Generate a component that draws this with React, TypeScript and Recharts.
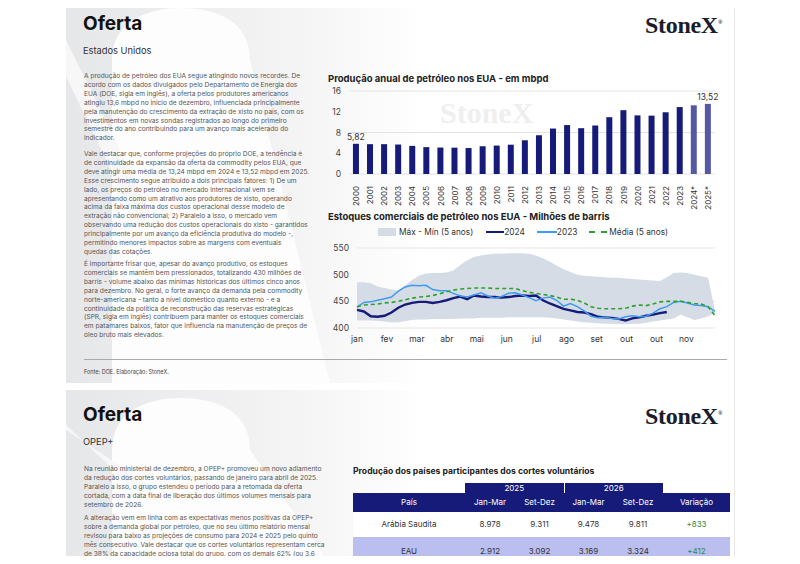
import React from "react";
import {
  BarChart,
  Bar,
  XAxis,
  YAxis,
  CartesianGrid,
  Cell,
  LabelList,
  ComposedChart,
  Area,
  Line,
} from "recharts";

const FONT = "Inter, 'Noto Sans', sans-serif";
const NAVY = "#161a78";

// --- bar chart: annual production (mbpd)
const YEARS = [
  "2000", "2001", "2002", "2003", "2004", "2005", "2006", "2007", "2008", "2009",
  "2010", "2011", "2012", "2013", "2014", "2015", "2016", "2017", "2018", "2019",
  "2020", "2021", "2022", "2023", "2024*", "2025*",
];
const PRODUCTION = [
  5.82, 5.75, 5.75, 5.68, 5.42, 5.18, 5.1, 5.08, 5.0, 5.35,
  5.48, 5.65, 6.5, 7.47, 8.76, 9.43, 8.83, 9.35, 10.95, 12.3,
  11.3, 11.25, 11.9, 12.9, 13.24, 13.52,
];
const PROD_TICKS = [0, 4, 8, 12, 16];

// --- line chart: commercial stocks (million barrels), weekly
const STOCK_2024 = [
  434, 431, 422, 421, 423, 429, 438, 444, 447, 449, 449, 447, 449, 452, 456, 459,
  454, 461, 459, 458, 458, 457, 458, 460, 461, 460, 461, 452, 446, 441, 436, 433,
  430, 429, 426, 421, 420, 419, 417, 414, 418, 420, 423, 425, 428, 430,
];
const STOCK_2023 = [
  439, 448, 449, 452, 455, 458, 469, 477, 480, 479, 480, 472, 470, 470, 465, 460,
  458, 462, 466, 460, 456, 459, 465, 466, 462, 457, 451, 456, 458, 452, 441, 446,
  440, 432, 422, 419, 420, 418, 417, 421, 423, 421, 422, 428, 436, 440, 448, 450,
  447, 443, 442, 440, 431,
];
const STOCK_AVG = [
  440, 443, 444, 445, 447, 448, 450, 453, 456, 458, 459, 461, 464, 468, 471, 473,
  474, 475, 475, 475, 474, 474, 474, 474, 470, 467, 465, 463, 461, 458, 454, 454,
  452, 447, 440, 437, 436, 436, 436, 437, 441, 443, 442, 445, 449, 450, 450, 450,
  448, 446, 445, 440, 423,
];
const STOCK_MAX = [
  486, 486, 484, 478, 475, 472, 470, 480, 490, 498, 502, 503, 503, 504, 508, 518,
  527, 533, 536, 538, 539, 539, 540, 540, 540, 539, 536, 531, 524, 517, 510, 505,
  500, 498, 497, 496, 495, 494, 494, 493, 492, 491, 490, 489, 488, 495, 503, 504,
  503, 500, 497, 494, 433,
];
const STOCK_MIN = [
  414, 414, 414, 413, 412, 411, 411, 413, 415, 416, 416, 417, 417, 417, 417, 418,
  418, 418, 419, 419, 419, 419, 420, 420, 420, 420, 420, 420, 419, 418, 416, 414,
  412, 411, 410, 409, 408, 408, 407, 407, 408, 408, 410, 412, 414, 416, 418, 425,
  420, 415, 418, 422, 428,
];
const MONTHS = ["jan", "fev", "mar", "abr", "mai", "jun", "jul", "ago", "set", "out", "out", "nov"];
const MONTH_WEEKS = [0, 4.35, 8.7, 13.05, 17.4, 21.75, 26.1, 30.45, 34.8, 39.15, 43.5, 47.85];
const STOCK_TICKS = [400, 450, 500, 550];

// --- table: voluntary cuts
const TABLE_COLS = ["País", "Jan-Mar", "Set-Dez", "Jan-Mar", "Set-Dez", "Variação"];
const COUNTRIES = ["Arábia Saudita", "EAU"];
const CUT_2025_Q1 = ["8.978", "2.912"];
const CUT_2025_Q4 = ["9.311", "3.092"];
const CUT_2026_Q1 = ["9.478", "3.169"];
const CUT_2026_Q4 = ["9.811", "3.324"];
const CUT_CHANGE = ["+833", "+412"];

const TEXT_US = [
  [
    "A produção de petróleo dos EUA segue atingindo novos recordes. De",
    "acordo com os dados divulgados pelo Departamento de Energia dos",
    "EUA (DOE, sigla em inglês), a oferta pelos produtores americanos",
    "atingiu 13,6 mbpd no início de dezembro, influenciada principalmente",
    "pela manutenção do crescimento da extração de xisto no país, com os",
    "investimentos em novas sondas registrados ao longo do primeiro",
    "semestre do ano contribuindo para um avanço mais acelerado do",
    "indicador.",
  ],
  [
    "Vale destacar que, conforme projeções do próprio DOE, a tendência é",
    "de continuidade da expansão da oferta da commodity pelos EUA, que",
    "deve atingir uma média de 13,24 mbpd em 2024 e 13,52 mbpd em 2025.",
    "Esse crescimento segue atribuído a dois principais fatores: 1) De um",
    "lado, os preços do petróleo no mercado internacional vem se",
    "apresentando como um atrativo aos produtores de xisto, operando",
    "acima da faixa máxima dos custos operacional desse modelo de",
    "extração não convencional; 2) Paralelo a isso, o mercado vem",
    "observando uma redução dos custos operacionais do xisto - garantidos",
    "principalmente por um avanço da eficiência produtiva do modelo -,",
    "permitindo menores impactos sobre as margens com eventuais",
    "quedas das cotações.",
  ],
  [
    "É importante frisar que, apesar do avanço produtivo, os estoques",
    "comerciais se mantêm bem pressionados, totalizando 430 milhões de",
    "barris - volume abaixo das mínimas históricas dos últimos cinco anos",
    "para dezembro. No geral, o forte avanço da demanda pela commodity",
    "norte-americana - tanto a nível doméstico quanto externo - e a",
    "continuidade da política de reconstrução das reservas estratégicas",
    "(SPR, sigla em inglês) contribuem para manter os estoques comerciais",
    "em patamares baixos, fator que influencia na manutenção de preços de",
    "óleo bruto mais elevados.",
  ],
];
const TEXT_OPEP = [
  [
    "Na reunião ministerial de dezembro, a OPEP+ promoveu um novo adiamento",
    "da redução dos cortes voluntários, passando de janeiro para abril de 2025.",
    "Paralelo a isso, o grupo estendeu o período para a retomada da oferta",
    "cortada, com a data final de liberação dos últimos volumes mensais para",
    "setembro de 2026.",
  ],
  [
    "A alteração vem em linha com as expectativas menos positivas da OPEP+",
    "sobre a demanda global por petróleo, que no seu último relatório mensal",
    "revisou para baixo as projeções de consumo para 2024 e 2025 pelo quinto",
    "mês consecutivo. Vale destacar que os cortes voluntários representam cerca",
    "de 38% da capacidade ociosa total do grupo, com os demais 62% (ou 3,6",
    "mbpd) sendo representando pelas cotas produtivas implementadas no",
  ],
];

const prodData = YEARS.map((y, i) => ({
  year: y,
  value: PRODUCTION[i],
  lbl: i === 0 || i === YEARS.length - 1 ? PRODUCTION[i] : null,
}));

const stockData = STOCK_MAX.map((_, i) => ({
  w: i,
  band: [STOCK_MIN[i], STOCK_MAX[i]],
  s2024: i < STOCK_2024.length ? STOCK_2024[i] : null,
  s2023: STOCK_2023[i],
  avg: STOCK_AVG[i],
}));

const abs = (left: number, top: number, extra: React.CSSProperties = {}): React.CSSProperties => ({
  position: "absolute",
  left,
  top,
  ...extra,
});

const YearTick = (props: any) => {
  const { x, y, payload } = props;
  return (
    <text
      transform={`translate(${x},${y + 4}) rotate(-90)`}
      textAnchor="end"
      dominantBaseline="central"
      fontSize={8}
      fill="#333"
      fontFamily={FONT}
    >
      {payload.value}
    </text>
  );
};

const Paragraphs = ({ paras, tops, left }: { paras: string[][]; tops: number[]; left: number }) => (
  <>
    {paras.map((lines, p) => (
      <div
        key={p}
        style={abs(left, tops[p], {
          fontSize: 6.6,
          lineHeight: "8.9px",
          color: "#555",
          whiteSpace: "nowrap",
          fontFamily: FONT,
        })}
      >
        {lines.map((l, i) => (
          <div key={i}>{l}</div>
        ))}
      </div>
    ))}
  </>
);

const Watermark = ({ top, h }: { top: number; h: number }) => (
  <svg style={abs(0, top)} width={800} height={h}>
    <defs>
      <linearGradient id={`wm${top}`} x1="0" x2="1" y1="0" y2="0">
        <stop offset="0" stopColor="#e6e7e9" />
        <stop offset="0.6" stopColor="#f3f3f4" />
        <stop offset="1" stopColor="#ffffff" />
      </linearGradient>
    </defs>
    <rect x={66} y={0} width={360} height={h} fill={`url(#wm${top})`} />
    <path
      d={`M112 ${h} L112 60 C112 20 150 8 180 8 C215 8 250 20 250 60 L330 ${h} Z`}
      fill="#fdfdfd"
    />
    <path d={`M66 40 L150 ${h * 0.55} L140 ${h * 0.6} L66 ${h * 0.2} Z`} fill="#f7f7f8" />
  </svg>
);

const StoneXLogo = ({ left, top }: { left: number; top: number }) => (
  <div
    style={abs(left, top, {
      fontFamily: "'Liberation Serif', 'DejaVu Serif', serif",
      fontWeight: 700,
      fontSize: 24,
      color: "#1a1d2b",
      letterSpacing: -0.3,
    })}
  >
    StoneX<span style={{ fontSize: 6, verticalAlign: "super" }}>®</span>
  </div>
);

export default function App() {
  const colW = [112, 50, 49, 49, 50, 67];
  return (
    <div style={{ position: "relative", width: 800, height: 564, margin: -8, background: "#fff", overflow: "hidden", fontFamily: FONT }}>
      <Watermark top={0} h={383} />
      <Watermark top={390} h={174} />
      <div style={abs(734, 0, { width: 1, height: 564, background: "#e8e8e8" })} />

      {/* top page */}
      <div style={abs(83, 12, { fontSize: 19, fontWeight: 700, color: "#111" })}>Oferta</div>
      <div style={abs(83, 45, { fontSize: 9.3, color: "#333" })}>Estados Unidos</div>
      <StoneXLogo left={645} top={12} />
      <Paragraphs paras={TEXT_US} tops={[72, 150, 260]} left={84} />
      <div style={abs(84, 359, { width: 643, height: 1, background: "#aaa" })} />
      <div style={abs(84, 369, { fontSize: 5.5, color: "#444" })}>Fonte: DOE. Elaboração: StoneX.</div>

      {/* bar chart */}
      <div style={abs(328, 73, { fontSize: 9.5, fontWeight: 700, color: "#222", whiteSpace: "nowrap" })}>
        Produção anual de petróleo nos EUA - em mbpd
      </div>
      <div style={abs(440, 96, { fontFamily: "'Liberation Serif', serif", fontSize: 30, fontWeight: 700, color: "#efefef" })}>
        StoneX
      </div>
      <div style={abs(300, 80)}>
        <BarChart
          width={430}
          height={132}
          data={prodData}
          margin={{ top: 11, right: 15, left: 19, bottom: 4 }}
          barCategoryGap="28%"
        >
          <CartesianGrid vertical={false} stroke="#e3e3e3" />
          <XAxis dataKey="year" interval={0} height={34} axisLine={false} tickLine={false} tick={<YearTick />} />
          <YAxis
            width={30}
            domain={[0, 16]}
            ticks={PROD_TICKS}
            axisLine={false}
            tickLine={false}
            tick={{ fontSize: 8.5, fill: "#444", fontFamily: FONT }}
          />
          <Bar dataKey="value" isAnimationActive={false}>
            {prodData.map((d) => (
              <Cell key={d.year} fill={d.year.includes("*") ? "#5558a3" : NAVY} />
            ))}
            <LabelList
              dataKey="lbl"
              position="top"
              offset={4}
              formatter={(v: any) => (v == null ? "" : Number(v).toFixed(2).replace(".", ","))}
              style={{ fontSize: 8.5, fill: "#333", fontFamily: FONT }}
            />
          </Bar>
        </BarChart>
      </div>

      {/* line chart */}
      <div style={abs(328, 211, { fontSize: 9.5, fontWeight: 700, color: "#222", whiteSpace: "nowrap" })}>
        Estoques comerciais de petróleo nos EUA - Milhões de barris
      </div>
      <div style={abs(378, 227, { display: "flex", alignItems: "center", fontSize: 8.3, color: "#333", whiteSpace: "nowrap" })}>
        <span style={{ width: 18, height: 8, background: "#d6dce6", marginRight: 3 }} />
        <span style={{ marginRight: 13 }}>Máx - Mín (5 anos)</span>
        <span style={{ width: 18, height: 2.5, background: NAVY }} />
        <span style={{ marginRight: 12 }}>2024</span>
        <span style={{ width: 20, height: 1.6, background: "#3d9bf0" }} />
        <span style={{ marginRight: 12 }}>2023</span>
        <span style={{ width: 18, borderTop: "2px dashed #2ca02c", marginRight: 2 }} />
        <span>Média (5 anos)</span>
      </div>
      <div style={abs(300, 240)}>
        <ComposedChart width={430} height={108} data={stockData} margin={{ top: 8, right: 15, left: 20, bottom: 2 }}>
          <CartesianGrid vertical={false} stroke="#e6e6e6" />
          <XAxis
            type="number"
            dataKey="w"
            domain={[0, 52]}
            ticks={MONTH_WEEKS}
            tickFormatter={(_v: any, i: number) => MONTHS[i]}
            interval={0}
            height={18}
            axisLine={false}
            tickLine={false}
            tick={{ fontSize: 8.5, fill: "#333", fontFamily: FONT }}
          />
          <YAxis
            width={37}
            domain={[400, 550]}
            ticks={STOCK_TICKS}
            axisLine={false}
            tickLine={false}
            tick={{ fontSize: 8.5, fill: "#444", fontFamily: FONT }}
          />
          <Area dataKey="band" fill="#d6dce6" fillOpacity={1} stroke="none" isAnimationActive={false} />
          <Line dataKey="s2024" stroke={NAVY} strokeWidth={2.4} dot={false} isAnimationActive={false} />
          <Line dataKey="s2023" stroke="#3d9bf0" strokeWidth={1.5} dot={false} isAnimationActive={false} />
          <Line dataKey="avg" stroke="#2ca02c" strokeWidth={1.6} strokeDasharray="4 3" dot={false} isAnimationActive={false} />
        </ComposedChart>
      </div>

      {/* bottom page */}
      <div style={abs(83, 403, { fontSize: 19, fontWeight: 700, color: "#111" })}>Oferta</div>
      <div style={abs(83, 436, { fontSize: 9.3, color: "#333" })}>OPEP+</div>
      <StoneXLogo left={645} top={403} />
      <Paragraphs paras={TEXT_OPEP} tops={[465, 514]} left={84} />

      <div style={abs(353, 466, { fontSize: 8.6, fontWeight: 700, color: "#222", whiteSpace: "nowrap" })}>
        Produção dos países participantes dos cortes voluntários
      </div>
      <div style={abs(465, 483, { display: "flex", width: 198, height: 10, background: NAVY, color: "#fff", fontSize: 8 })}>
        <div style={{ flex: 1, textAlign: "center", lineHeight: "10px", borderRight: "1px solid #fff" }}>2025</div>
        <div style={{ flex: 1, textAlign: "center", lineHeight: "10px" }}>2026</div>
      </div>
      <div style={abs(353, 493, { display: "flex", width: 377, height: 19, background: NAVY, color: "#fff", fontSize: 8 })}>
        {TABLE_COLS.map((c, i) => (
          <div key={i} style={{ width: colW[i], textAlign: "center", lineHeight: "19px" }}>{c}</div>
        ))}
      </div>
      {COUNTRIES.map((c, r) => {
        const cells = [c, CUT_2025_Q1[r], CUT_2025_Q4[r], CUT_2026_Q1[r], CUT_2026_Q4[r], CUT_CHANGE[r]];
        return (
          <div
            key={c}
            style={abs(353, 512 + r * 25, {
              display: "flex",
              width: 377,
              height: r === 0 ? 25 : 30,
              background: r === 1 ? "#babff0" : "#fff",
              color: "#333",
              fontSize: 8,
            })}
          >
            {cells.map((v, i) => (
              <div
                key={i}
                style={{
                  width: colW[i],
                  textAlign: "center",
                  lineHeight: r === 0 ? "25px" : "28px",
                  color: i === 5 ? "#2f8a3a" : "#333",
                }}
              >
                {v}
              </div>
            ))}
          </div>
        );
      })}
    </div>
  );
}
